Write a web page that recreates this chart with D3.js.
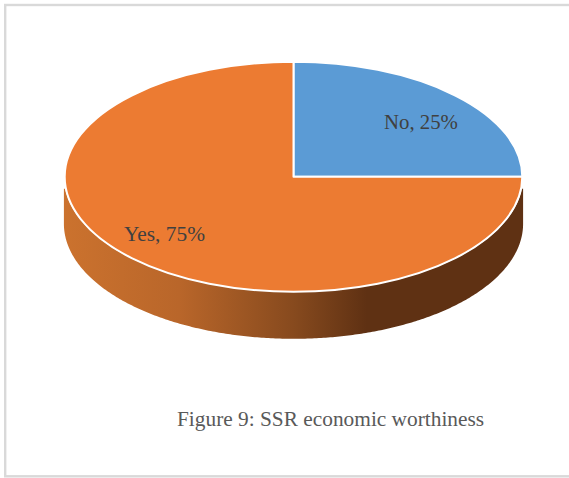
<!DOCTYPE html>
<html><head><meta charset="utf-8">
<script src="https://cdn.jsdelivr.net/npm/d3@7"></script>
<style>html,body{margin:0;padding:0;background:#fff;overflow:hidden}svg{display:block}text{font-family:"Liberation Serif",serif}</style>
</head><body><div id="c"></div>
<script>
const categories = ["No", "Yes"];
const values = [25, 75];
const labels = ["No, 25%", "Yes, 75%"];
const colors = ["#5B9BD5", "#EC7B32"];
const caption = "Figure 9: SSR economic worthiness";

const W = 569, H = 478;
const cx = 293.5, cy = 176.8, rx = 228.8, ry = 115, depth = 47;
const svg = d3.select("#c").append("svg").attr("width", W).attr("height", H);

svg.append("rect").attr("x", 5.2).attr("y", 5).attr("width", W + 10).attr("height", 471.3)
  .attr("fill", "#fff").attr("stroke", "#d9d9d9").attr("stroke-width", 2.4);

const defs = svg.append("defs");
const grad = defs.append("linearGradient").attr("id", "side")
  .attr("gradientUnits", "userSpaceOnUse").attr("x1", cx - rx).attr("x2", cx + rx).attr("y1", 0).attr("y2", 0);
[[0, "#cb722e"], [0.25, "#b9662a"], [0.5, "#874a1e"], [0.66, "#5f3113"], [1, "#5f3113"]]
  .forEach(([o, c]) => grad.append("stop").attr("offset", o).attr("stop-color", c));
defs.append("clipPath").attr("id", "sideClip").append("rect")
  .attr("x", 0).attr("y", cy + 12).attr("width", W).attr("height", H);

const arcs = d3.pie().sort(null).value(d => d)(values);

// Side wall of the slices that face the viewer (front half of the ellipse)
const sideRx = rx + 0.8;
arcs.forEach(a => {
  const start = Math.max(a.startAngle, Math.PI / 2), end = Math.min(a.endAngle, 3 * Math.PI / 2);
  if (end <= start) return;
  const angles = d3.range(start, end, 0.01).concat([end]);
  const area = d3.area()
    .x(t => cx + sideRx * Math.sin(t))
    .y0(t => cy - ry * Math.cos(t))
    .y1(t => cy + depth - ry * Math.cos(t));
  svg.append("path").attr("d", area(angles)).attr("fill", "url(#side)").attr("clip-path", "url(#sideClip)");
});

// Top face: a d3 arc squashed into an ellipse
const arc = d3.arc().innerRadius(0).outerRadius(rx);
svg.append("g").attr("transform", `translate(${cx},${cy}) scale(1,${ry / rx})`)
  .selectAll("path").data(arcs).join("path")
  .attr("d", arc).attr("fill", (d, i) => colors[i])
  .attr("stroke", "#fff").attr("stroke-width", 2).attr("vector-effect", "non-scaling-stroke")
  .attr("stroke-linejoin", "round");

const labelPos = [[384, 129], [124, 241]];
const labelSize = [20.8, 21.4];
svg.selectAll("text.l").data(labels).join("text").attr("class", "l")
  .attr("x", (d, i) => labelPos[i][0]).attr("y", (d, i) => labelPos[i][1])
  .attr("font-size", (d, i) => labelSize[i]).attr("fill", "#404040").text(d => d);

svg.append("text").attr("x", 177).attr("y", 426).attr("font-size", 21.35)
  .attr("fill", "#595959").text(caption);
</script></body></html>
